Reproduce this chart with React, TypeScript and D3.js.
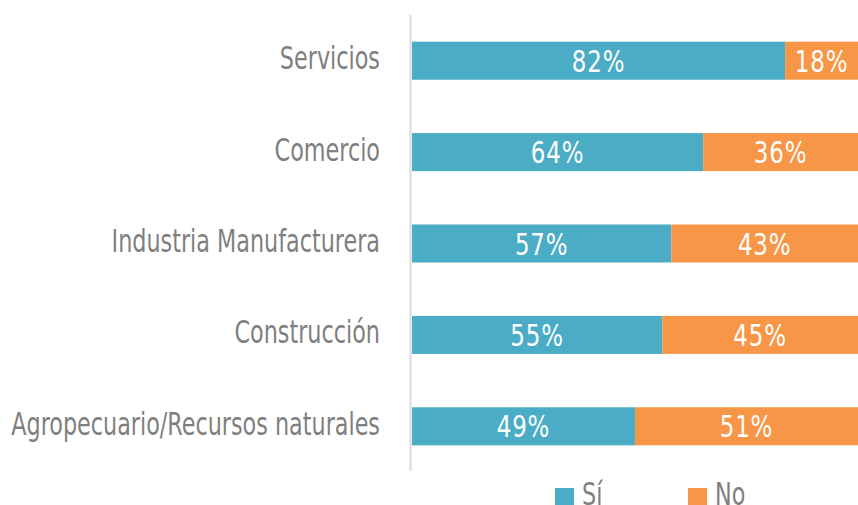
import React, { useEffect, useRef } from "react";
import * as d3 from "d3";

const categories = [
  "Servicios",
  "Comercio",
  "Industria Manufacturera",
  "Construcción",
  "Agropecuario/Recursos naturales",
];
const siValues = [82, 64, 57, 55, 49];
const noValues = [18, 36, 43, 45, 51];
const seriesNames = ["Sí", "No"];
const colors = ["#4BACC6", "#F79646"];

const WIDTH = 858;
const HEIGHT = 505;
const FONT = "'DejaVu Sans Condensed', 'DejaVu Sans', sans-serif";
// reference uses a narrow face, so squeeze glyphs horizontally
const LABEL_SCALE = 0.775;
const VALUE_SCALE = 0.85;

const App = () => {
  const ref = useRef<SVGSVGElement | null>(null);

  useEffect(() => {
    const svg = d3.select(ref.current);
    svg.selectAll("*").remove();

    const x = d3.scaleLinear().domain([0, 100]).range([412, 867]);
    const y = d3
      .scaleBand()
      .domain(categories)
      .range([15, 472])
      .paddingInner(0.584)
      .paddingOuter(0.292);

    const rows = categories.map((c, i) => ({
      cat: c,
      parts: [
        { key: 0, x0: 0, x1: siValues[i] },
        { key: 1, x0: siValues[i], x1: siValues[i] + noValues[i] },
      ],
    }));

    const g = svg.append("g");

    rows.forEach((r) => {
      const cy = y(r.cat)! + y.bandwidth() / 2;
      r.parts.forEach((p) => {
        g.append("rect")
          .attr("x", x(p.x0))
          .attr("y", y(r.cat)!)
          .attr("width", x(p.x1) - x(p.x0))
          .attr("height", y.bandwidth())
          .attr("fill", colors[p.key]);

        const mid = (x(p.x0) + Math.min(x(p.x1), WIDTH)) / 2;
        g.append("text")
          .attr("transform", `translate(${mid},${cy + 11}) scale(${VALUE_SCALE},1)`)
          .attr("text-anchor", "middle")
          .attr("fill", "#fff")
          .style("font-family", FONT)
          .style("font-size", "30px")
          .style("letter-spacing", "1px")
          .text(`${p.x1 - p.x0}%`);
      });
    });

    // axis line
    svg
      .append("line")
      .attr("x1", 410.5)
      .attr("x2", 410.5)
      .attr("y1", 15)
      .attr("y2", 471)
      .attr("stroke", "#D9D9D9")
      .attr("stroke-width", 2);

    // category labels
    svg
      .append("g")
      .selectAll("text")
      .data(categories)
      .join("text")
      .attr(
        "transform",
        (d) => `translate(380,${y(d)! + y.bandwidth() / 2 + 8.5}) scale(${LABEL_SCALE},1)`
      )
      .attr("text-anchor", "end")
      .attr("fill", "#7F7F7F")
      .style("font-family", FONT)
      .style("font-size", "32px")
      .text((d) => d);

    // legend
    const leg = svg.append("g");
    const legX = [555, 688];
    seriesNames.forEach((s, i) => {
      leg
        .append("rect")
        .attr("x", legX[i])
        .attr("y", 488)
        .attr("width", 19)
        .attr("height", 19)
        .attr("fill", colors[i]);
      leg
        .append("text")
        .attr("transform", `translate(${legX[i] + 27},505) scale(${LABEL_SCALE},1)`)
        .attr("fill", "#7F7F7F")
        .style("font-family", FONT)
        .style("font-size", "32px")
        .text(s);
    });
  }, []);

  return (
    <svg
      ref={ref}
      width={WIDTH}
      height={HEIGHT}
      style={{ position: "absolute", left: 0, top: 0, background: "#fff" }}
    />
  );
};

export default App;
